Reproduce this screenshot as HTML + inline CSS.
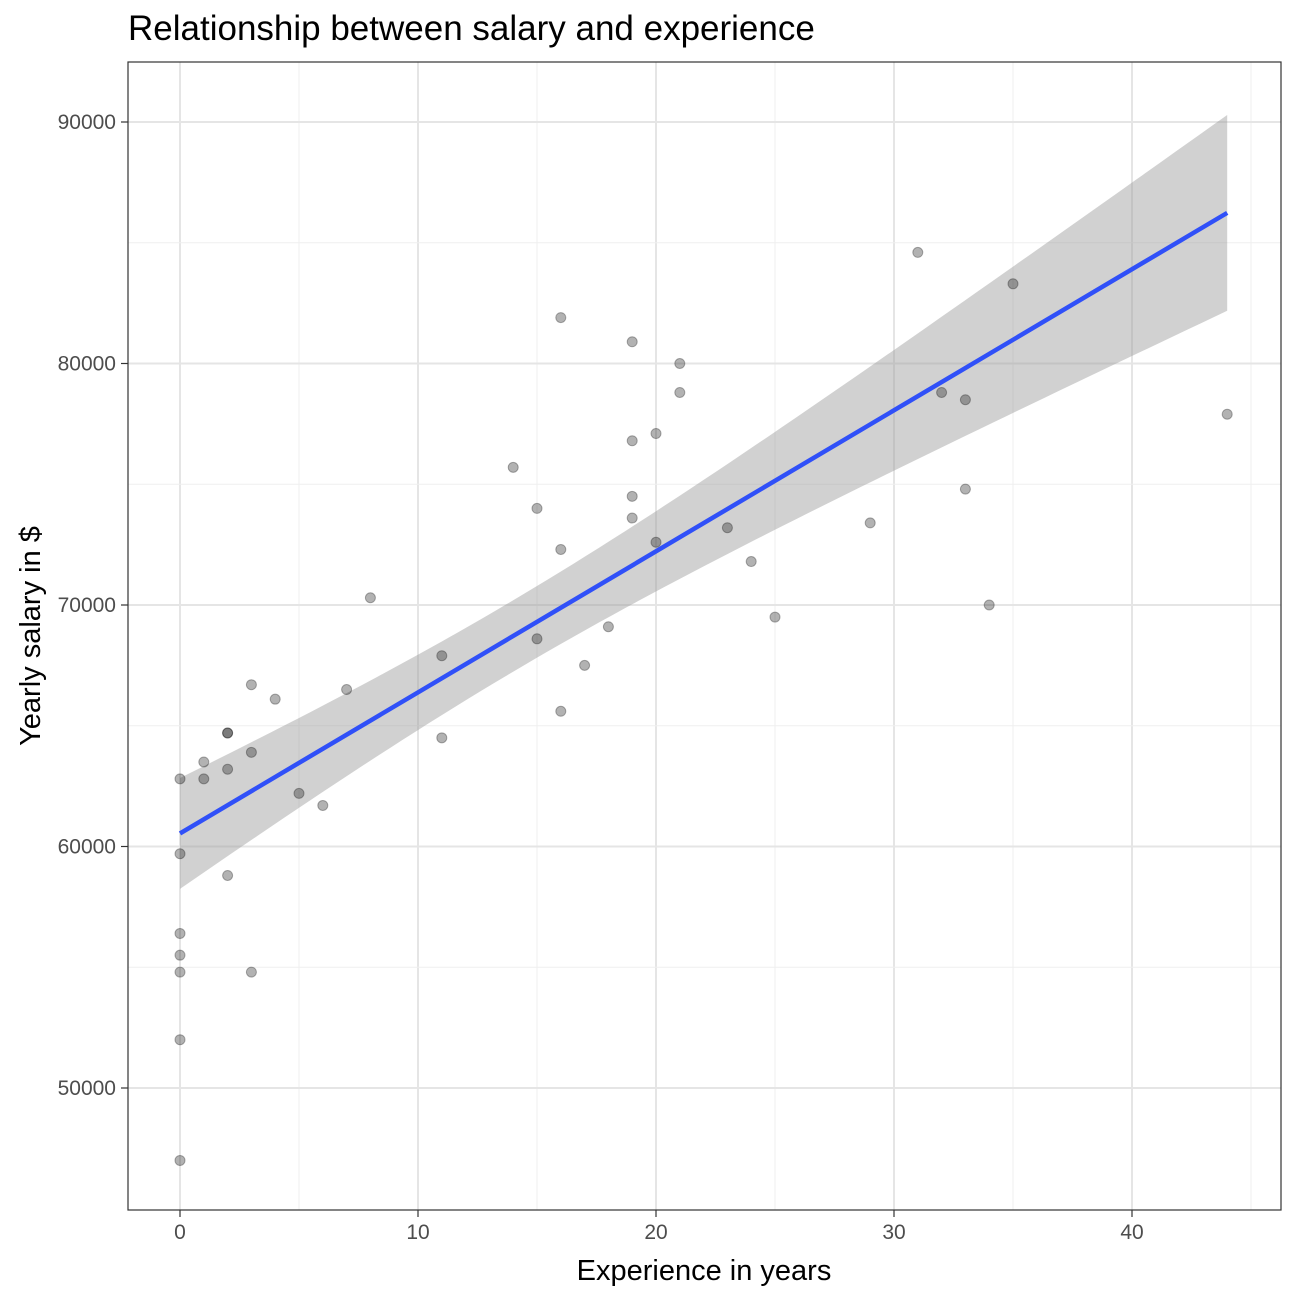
<!DOCTYPE html>
<html><head><meta charset="utf-8"><style>
body{margin:0;background:#fff;font-family:"Liberation Sans",Arial,sans-serif}
</style></head><body>
<svg id="chart" width="1296" height="1296" xmlns="http://www.w3.org/2000/svg">
<defs><clipPath id="pc"><rect x="128" y="62" width="1153" height="1148"/></clipPath></defs>
<rect width="1296" height="1296" fill="#fff"/>
<text x="128" y="40" font-size="35" fill="#000">Relationship between salary and experience</text>
<g id="grid" clip-path="url(#pc)"></g><g id="band"></g><g id="pts"></g><g id="line"></g>
<rect x="128" y="62" width="1153" height="1148" fill="none" stroke="#333" stroke-width="1.2"/>
<g id="axes"></g>
<text x="704" y="1280" font-size="29" text-anchor="middle">Experience in years</text>
<text transform="translate(40,636) rotate(-90)" font-size="29" text-anchor="middle">Yearly salary in $</text>
</svg>
<script>
const experience=[0,0,0,0,0,0,0,1,1,2,2,2,2,3,3,3,4,5,6,7,8,11,11,14,15,15,16,16,16,17,18,19,19,19,19,20,20,21,21,23,24,25,29,31,32,33,33,34,35,44];
const salary=[62800,59700,56400,55500,54800,52000,47000,63500,62800,64700,64700,63200,58800,66700,63900,54800,66100,62200,61700,66500,70300,67900,64500,75700,74000,68600,81900,72300,65600,67500,69100,80900,76800,74500,73600,77100,72600,80000,78800,73200,71800,69500,73400,84600,78800,78500,74800,70000,83300,77900];
const xTicks=[0,10,20,30,40];
const yTicks=[50000,60000,70000,80000,90000];
const NS="http://www.w3.org/2000/svg";
const X=v=>180+v*23.8, Y=v=>122+(90000-v)*0.02415;
function mk(tag,attrs,parent){const e=document.createElementNS(NS,tag);for(const k in attrs)e.setAttribute(k,attrs[k]);document.getElementById(parent).appendChild(e);return e;}
for(let i=0;i<xTicks.length;i++){
 const l=mk('line',{x1:X(xTicks[i]),x2:X(xTicks[i]),y1:62,y2:1210,stroke:'#e5e5e5','stroke-width':2},'grid');
 
 
 const m=mk('line',{x1:X(xTicks[i]+5),x2:X(xTicks[i]+5),y1:62,y2:1210,stroke:'#efefef','stroke-width':1},'grid');
 
 
}
for(let i=0;i<yTicks.length;i++){
 const l=mk('line',{x1:128,x2:1281,y1:Y(yTicks[i]),y2:Y(yTicks[i]),stroke:'#e5e5e5','stroke-width':2},'grid');
 
 
 const m=mk('line',{x1:128,x2:1281,y1:Y(yTicks[i]+5000),y2:Y(yTicks[i]+5000),stroke:'#efefef','stroke-width':1},'grid');
 
 
}
const n=experience.length;let mx=0,my=0;
for(let i=0;i<n;i++){mx+=experience[i];my+=salary[i];}mx/=n;my/=n;
let sxx=0,sxy=0;for(let i=0;i<n;i++){sxx+=(experience[i]-mx)**2;sxy+=(experience[i]-mx)*(salary[i]-my);}
const b=sxy/sxx,a=my-b*mx;let sse=0;for(let i=0;i<n;i++)sse+=(salary[i]-a-b*experience[i])**2;
const s=Math.sqrt(sse/(n-2)),t=2.0106;
const xmin=Math.min(...experience),xmax=Math.max(...experience);
let up=[],lo=[];
for(let k=0;k<=80;k++){const x=xmin+(xmax-xmin)*k/80;const f=a+b*x;const se=s*Math.sqrt(1/n+(x-mx)**2/sxx);
 up.push(X(x)+','+Y(f+t*se));lo.unshift(X(x)+','+Y(f-t*se));}
const band=mk('polygon',{points:up.concat(lo).join(' '),fill:'#999','fill-opacity':0.45},'band');


for(let i=0;i<n;i++){
 const c=mk('circle',{cx:X(experience[i]),cy:Y(salary[i]),r:5,fill:'#000','fill-opacity':0.3,stroke:'#000','stroke-opacity':0.3,'stroke-width':1},'pts');
 
 
}
const ln=mk('line',{x1:X(xmin),y1:Y(a+b*xmin),x2:X(xmax),y2:Y(a+b*xmax),stroke:'#3050f8','stroke-width':4.5},'line');


for(let i=0;i<xTicks.length;i++){
 mk('line',{x1:X(xTicks[i]),x2:X(xTicks[i]),y1:1210,y2:1217,stroke:'#333','stroke-width':1.2},'axes');
 const tx=mk('text',{x:X(xTicks[i]),y:1239,'font-size':21,fill:'#4d4d4d','text-anchor':'middle'},'axes');
 tx.textContent=xTicks[i];
 
 
}
for(let i=0;i<yTicks.length;i++){
 mk('line',{x1:121,x2:128,y1:Y(yTicks[i]),y2:Y(yTicks[i]),stroke:'#333','stroke-width':1.2},'axes');
 const ty=mk('text',{x:116,y:Y(yTicks[i])+7,'font-size':21,fill:'#4d4d4d','text-anchor':'end'},'axes');
 ty.textContent=yTicks[i];
 
 
}
</script>
</body></html>
